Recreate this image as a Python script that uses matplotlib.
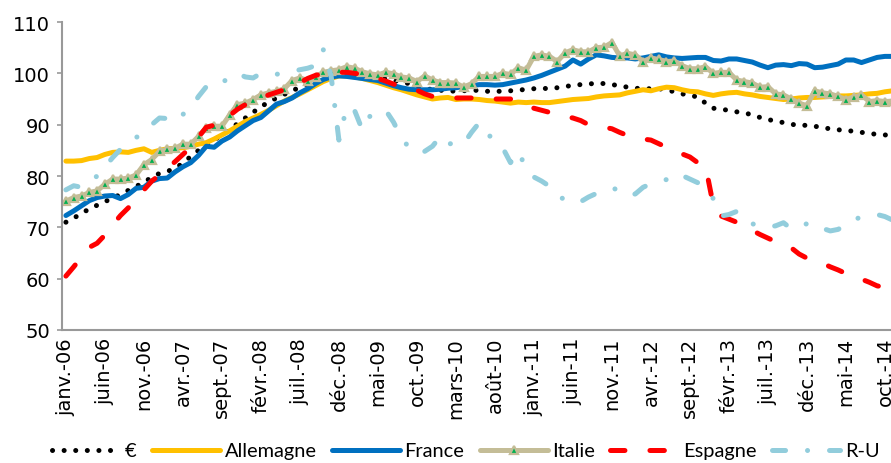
import matplotlib
matplotlib.use("Agg")
import matplotlib.pyplot as plt
from matplotlib import font_manager

# ---- data: monthly index, janv.-06 onwards ----
month_abbr = ["janv.", "févr.", "mars", "avr.", "mai", "juin",
              "juil.", "août", "sept.", "oct.", "nov.", "déc."]
years = list(range(6, 15))

euro = [71.0, 71.8, 72.7, 73.6, 74.3, 75.0, 75.7, 76.4, 77.2, 78.0,
        78.7, 79.8, 80.5, 80.9, 81.5, 82.5, 83.8, 85.0, 86.0, 87.0,
        88.0, 89.0, 90.2, 91.3, 92.4, 93.5, 94.4, 95.2, 95.9, 96.6,
        97.3, 98.0, 98.8, 99.4, 99.8, 100.0, 100.1, 99.9, 99.6, 99.4,
        99.2, 98.9, 98.6, 98.3, 98.0, 97.5, 97.1, 96.8, 96.7, 96.6,
        96.5, 96.6, 96.8, 96.6, 96.5, 96.5, 96.5, 96.6, 96.7, 96.9,
        97.0, 97.1, 97.0, 97.2, 97.4, 97.7, 97.8, 97.9, 98.1, 98.0,
        97.8, 97.6, 97.3, 97.1, 97.0, 97.0, 97.0, 96.8, 96.4, 96.0,
        95.7, 95.4, 94.2, 93.2, 93.0, 92.8, 92.5, 92.3, 91.9, 91.4,
        91.0, 90.7, 90.4, 90.1, 89.8, 89.9, 89.7, 89.4, 89.2, 89.0,
        88.9, 88.7, 88.5, 88.3, 88.1, 88.0, 87.9]

allemagne = [82.9, 82.9, 83.0, 83.4, 83.6, 84.2, 84.6, 84.7, 84.6, 85.0,
             85.3, 84.6, 85.0, 85.3, 85.4, 85.5, 85.8, 86.2, 86.5, 87.2,
             88.0, 88.8, 89.7, 90.6, 91.3, 92.0, 92.8, 93.7, 94.6, 95.3,
             96.0, 96.8, 97.6, 98.4, 99.0, 99.5, 99.5, 99.3, 99.0, 98.6,
             98.2, 97.7, 97.2, 96.8, 96.3, 95.8, 95.4, 95.0, 95.2, 95.3,
             94.9, 95.0, 95.0, 94.9, 94.7, 94.6, 94.4, 94.2, 94.4, 94.3,
             94.4, 94.3, 94.3, 94.5, 94.7, 94.9, 95.0, 95.1, 95.4, 95.6,
             95.7, 95.8, 96.2, 96.5, 96.8, 96.6, 97.0, 97.3, 97.2, 96.8,
             96.5, 96.4, 96.0, 95.7, 96.0, 96.2, 96.3, 96.0, 95.8, 95.5,
             95.3, 95.1, 94.9, 95.0, 95.2, 95.3, 95.3, 95.4, 95.5, 95.6,
             95.6, 95.7, 95.8, 96.0, 96.1, 96.4, 96.6]

france = [72.3, 73.2, 74.2, 75.2, 75.8, 76.1, 76.2, 75.6, 76.4, 77.6,
          77.8, 79.0, 79.5, 79.6, 80.8, 81.8, 82.6, 84.0, 85.8, 85.6,
          86.8, 87.6, 88.8, 89.8, 90.8, 91.4, 92.7, 94.0, 94.5, 95.2,
          96.2, 97.0, 98.0, 98.8, 99.3, 99.5, 99.4, 99.2, 99.0, 98.8,
          98.6, 98.1, 97.6, 97.2, 96.9, 96.8, 96.8, 96.8, 96.9, 97.1,
          97.2, 97.4, 97.6, 97.8, 97.8, 97.7, 97.8, 98.1, 98.4, 98.7,
          99.1, 99.6, 100.2, 100.8, 101.4, 102.6, 101.8, 102.8, 103.6, 103.4,
          103.1, 103.0, 103.0, 102.8, 103.0, 103.3, 103.6, 103.2, 103.0, 102.9,
          103.0, 103.1, 103.1, 102.5, 102.4, 102.8, 102.8, 102.5, 102.2, 101.6,
          101.1, 101.6, 101.7, 101.5, 101.9, 101.8, 101.1, 101.2, 101.5, 101.8,
          102.6, 102.6, 102.1, 102.6, 103.1, 103.3, 103.3]

italie = [75.1, 75.8, 76.1, 76.8, 77.1, 78.4, 79.4, 79.4, 79.6, 80.2,
          82.2, 83.2, 84.8, 85.2, 85.4, 86.2, 86.2, 87.7, 89.4, 89.7,
          89.7, 91.9, 93.9, 94.2, 94.9, 95.8, 96.2, 96.5, 97.0, 98.6,
          99.1, 98.6, 99.3, 100.2, 100.5, 100.7, 101.3, 101.0, 100.3, 99.9,
          99.7, 100.2, 99.9, 99.3, 99.1, 98.4, 99.5, 98.7, 98.2, 98.2,
          98.1, 97.3, 98.0, 99.4, 99.4, 99.4, 100.0, 99.8, 101.1, 100.6,
          103.3, 103.6, 103.3, 102.3, 104.0, 104.6, 104.2, 104.2, 105.0, 105.1,
          106.0, 103.4, 103.9, 103.6, 102.3, 103.0, 102.7, 102.3, 102.4, 101.5,
          100.9, 100.9, 101.3, 100.0, 100.2, 100.2, 98.7, 98.4, 98.1, 97.3,
          97.4, 96.0, 95.8, 95.0, 94.2, 93.7, 96.6, 96.2, 96.0, 95.5,
          94.9, 95.4, 95.8, 94.5, 94.7, 94.5, 94.6]

espagne = [60.5, 62.3, 64.2, 66.1, 66.9, 68.5, 70.5, 72.3, 73.8, 75.5,
           77.3, 79.0, 80.2, 81.5, 82.8, 84.2, 85.6, 87.6, 89.5, 89.9,
           90.3, 91.8, 93.0, 93.9, 94.5, 95.2, 95.8, 96.3, 96.8, 97.5,
           98.2, 99.0, 99.6, 100.0, 100.2, 100.2, 100.2, 100.0, 99.8, 99.5,
           99.0, 98.5, 97.9, 97.4, 97.0, 96.7, 96.0, 95.5, 95.3, 95.2,
           95.2, 95.2, 95.2, 95.1, 95.0, 95.0, 95.0, 95.0, 94.5, 93.8,
           93.2, 92.8, 92.4, 92.0, 91.6, 91.3, 90.8, 90.0, 89.8, 89.5,
           89.2, 88.5, 87.9, 87.6, 87.2, 87.0, 86.3, 85.6, 85.0, 84.3,
           83.7, 82.6, 82.0, 74.3, 72.2, 71.6, 71.0, 70.2, 69.4, 68.6,
           67.9, 67.2, 66.6, 66.0, 64.8, 64.0, 63.5, 63.0, 62.3, 61.7,
           61.0, 60.5, 59.9, 59.3, 58.6, 58.3, 58.6]

royaume_uni = [77.3, 78.1, 77.8, 78.8, 80.0, 81.8, 83.6, 85.2, 86.3, 87.5,
               88.4, 90.0, 91.3, 91.2, 90.6, 92.0, 93.2, 95.5, 97.4, 98.2,
               98.0, 99.5, 100.0, 99.3, 99.1, 100.0, 100.0, 99.8, 100.2, 100.4,
               100.7, 101.0, 101.5, 104.6, 99.5, 87.0, 93.5, 92.8, 89.0, 91.7,
               92.5, 92.8, 90.5, 87.5, 85.5, 84.5, 84.8, 85.8, 87.7, 86.2,
               86.5, 86.3, 88.5, 90.4, 88.2, 87.0, 85.5, 82.6, 84.8, 81.5,
               79.8, 79.0, 78.0, 76.3, 75.3, 74.7, 75.0, 75.9, 76.6, 77.3,
               77.6, 77.3, 76.2, 76.5, 77.8, 78.5, 79.0, 79.3, 80.4, 80.1,
               79.4, 78.7, 77.2, 75.6, 72.2, 72.5, 73.1, 71.5, 70.7, 70.2,
               70.0, 70.3, 70.9, 69.7, 70.2, 70.7, 70.8, 69.8, 69.3, 69.6,
               70.5, 71.5, 72.0, 72.4, 72.5, 72.1, 71.4]

series_names = ["€", "Allemagne", "France", "Italie", "Espagne", "R-U"]

month_labels = [f"{m}-{y:02d}" for y in years for m in month_abbr]
n = len(euro)
x = list(range(n))
tick_step = 5
y_ticks = [50, 60, 70, 80, 90, 100, 110]


def pick_family(*names):
    installed = {f.name for f in font_manager.fontManager.ttflist}
    for name in names:
        if name in installed:
            return name
    return "DejaVu Sans"


tick_family = pick_family("DejaVu Sans")
legend_family = pick_family("Lato", "Liberation Sans")
legend_size = 14.4

plt.rcParams["lines.scale_dashes"] = False
plt.rcParams["font.family"] = [tick_family, "DejaVu Sans"]

W, H = 891, 464
fig = plt.figure(figsize=(W / 100, H / 100), dpi=100)
fig.patch.set_facecolor("white")

left_px, right_px, top_px, bottom_px = 62, 904.4, 23, 331
ax = fig.add_axes([left_px / W, 1 - bottom_px / H,
                   (right_px - left_px) / W, (bottom_px - top_px) / H])
ax.set_facecolor("white")

lw = 3.6
ax.plot(x, euro, color="black", lw=lw, linestyle=(0, (0.05, 8.3)),
        dash_capstyle="round", label=series_names[0])
ax.plot(x, allemagne, color="#FFC000", lw=lw, solid_capstyle="round",
        label=series_names[1])
ax.plot(x, france, color="#0070C0", lw=lw, solid_capstyle="round",
        label=series_names[2])
ax.plot(x, italie, color="#C4BD97", lw=lw, solid_capstyle="round",
        marker="^", markersize=5.5, markerfacecolor="#00B050",
        markeredgecolor="#C4BD97", markeredgewidth=1.6,
        label=series_names[3])
ax.plot(x, espagne, color="#FF0000", lw=lw, linestyle=(0, (10.4, 18.0)),
        dash_capstyle="round", label=series_names[4])
ax.plot(x, royaume_uni, color="#92CDDC", lw=lw,
        linestyle=(0, (9.4, 15.8, 0.05, 15.8)), dash_capstyle="round",
        label=series_names[5])

ax.set_xlim(-0.5, 107.5)
ax.set_ylim(50, 110)

for side in ("top", "right"):
    ax.spines[side].set_visible(False)
for side in ("left", "bottom"):
    ax.spines[side].set_color("#999999")
    ax.spines[side].set_linewidth(1.5)

ax.set_yticks(y_ticks)
ax.set_yticklabels([str(v) for v in y_ticks])
ax.tick_params(axis="y", direction="out", length=3.6, width=1.2,
               color="#999999", pad=5, labelsize=14, labelcolor="black")

tick_pos = x[::tick_step]
ax.set_xticks(tick_pos)
ax.set_xticklabels([month_labels[i] for i in tick_pos], rotation=90)
ax.tick_params(axis="x", length=0, pad=5, labelsize=14, labelcolor="black")

fs_px = legend_size * 100 / 72
leg = fig.legend(loc="center left", bbox_to_anchor=(52 / W, 12 / H),
                 bbox_transform=fig.transFigure, ncol=6, frameon=False,
                 borderpad=0, borderaxespad=0,
                 handlelength=68 / fs_px, handletextpad=5 / fs_px,
                 columnspacing=15.0 / fs_px,
                 prop={"family": [legend_family, "DejaVu Sans"],
                       "size": legend_size})

fig.savefig("out.png", dpi=100, facecolor="white")
